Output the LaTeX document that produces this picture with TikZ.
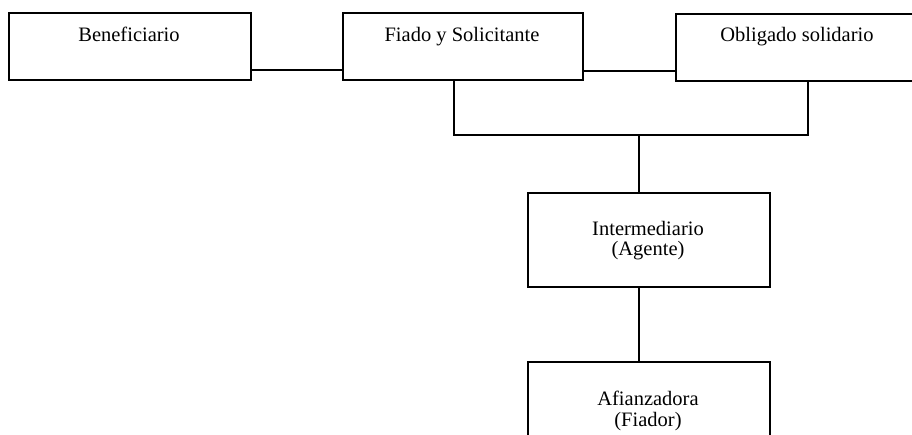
\documentclass[tikz,border=0pt]{standalone}
\usepackage{fontspec}
\setmainfont{Liberation Serif}
\begin{document}
\begin{tikzpicture}[x=1pt,y=-1pt,
  box/.style={draw,line width=2pt,rectangle,inner sep=0pt,anchor=north west},
  lbl/.style={inner sep=0pt,anchor=base,font=\fontsize{20.5}{21}\selectfont},
  conn/.style={line width=2pt}]
\clip (0,0) rectangle (912,434);
\fill[white] (0,0) rectangle (912,434);
\node[box,minimum width=242pt,minimum height=67pt] (ben) at (8,12) {};
\node[box,minimum width=240pt,minimum height=67pt] (fia) at (342,12) {};
\node[box,minimum width=244pt,minimum height=67pt] (obl) at (675,13) {};
\node[box,minimum width=242pt,minimum height=94pt] (int) at (527,192) {};
\node[box,minimum width=242pt,minimum height=100pt] (afi) at (527,361) {};
\node[lbl] (tben) at (129,41) {Beneficiario};
\node[lbl] (tfia) at (462,41) {Fiado y Solicitante};
\node[lbl] (tobl) at (797,41) {Obligado solidario};
\node[lbl] (tint1) at (648,235) {Intermediario};
\node[lbl] (tint2) at (648,255) {(Agente)};
\node[lbl] (tafi1) at (648,405) {Afianzadora};
\node[lbl] (tafi2) at (648,426) {(Fiador)};
\coordinate (jn) at (639,135);
\draw[conn] ([yshift=11pt]ben.south east) -- ([yshift=11pt]fia.south west);
\draw[conn] ([yshift=10pt]fia.south east) -- ([yshift=11pt]obl.south west);
\draw[conn] ([xshift=-130pt]fia.south east) |- (jn) -| ([xshift=-113pt]obl.south east);
\draw[conn] (jn) -- (jn |- int.north);
\draw[conn] (int.south -| jn) -- (afi.north -| jn);
\end{tikzpicture}
\end{document}
